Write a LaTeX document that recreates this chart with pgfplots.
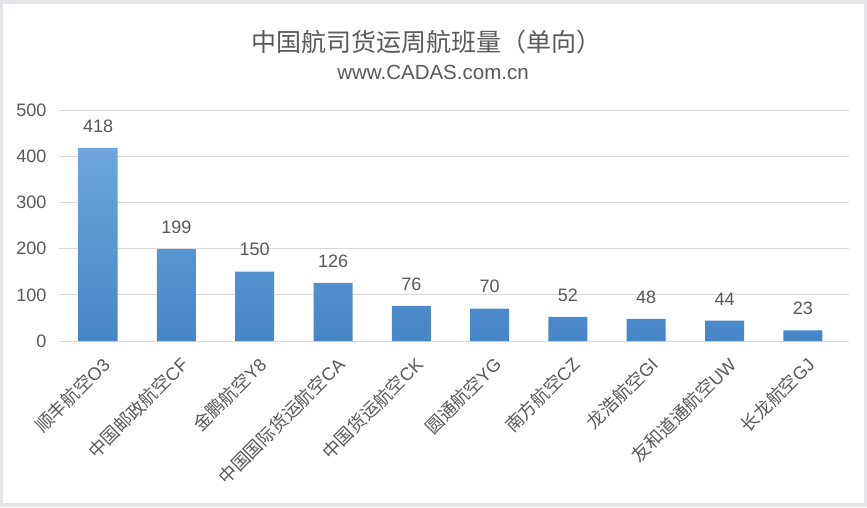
\documentclass[border=0pt]{standalone}
\usepackage{fontspec}
\setmainfont{Liberation Sans}
\newfontfamily\cjk{Noto Sans CJK SC}
\usepackage{pgfplots}
\pgfplotsset{compat=1.18}
\definecolor{txt}{HTML}{595959}
\definecolor{gridc}{HTML}{D9D9D9}
\definecolor{bartop}{HTML}{6EA6DD}
\definecolor{barbot}{HTML}{4685C7}
\definecolor{frame}{HTML}{E3E5E8}
\begin{document}
\begin{tikzpicture}[x=1pt,y=1pt]
\fill[frame] (0,0) rectangle (867,507);
\fill[white] (3,4) rectangle (864,503);
\node[text=txt, font=\cjk\fontsize{25}{30}\selectfont] at (426,465) {中国航司货运周航班量（单向）};
\node[text=txt, font=\fontsize{20.5}{24}\selectfont] at (433,435) {www.CADAS.com.cn};
\begin{axis}[
  at={(59pt,166pt)}, anchor=south west,
  scale only axis, width=790pt, height=231pt,
  xmin=-0.5, xmax=9.59, ymin=0, ymax=500,
  ytick={0,100,...,500},
  ymajorgrids, grid style={draw=gridc, line width=1pt},
  axis line style={draw=none},
  major tick length=0pt,
  xtick=data,
  xticklabels={{\cjk 顺丰航空}O3,{\cjk 中国邮政航空}CF,{\cjk 金鹏航空}Y8,{\cjk 中国国际货运航空}CA,{\cjk 中国货运航空}CK,{\cjk 圆通航空}YG,{\cjk 南方航空}CZ,{\cjk 龙浩航空}GI,{\cjk 友和道通航空}UW,{\cjk 长龙航空}GJ},
  xticklabel style={rotate=45, anchor=east, yshift=-20pt, xshift=-5pt, text=txt, font=\fontsize{18}{21}\selectfont},
  yticklabel style={text=txt, font=\fontsize{18}{21}\selectfont, xshift=-9pt},
  /pgf/number format/assume math mode=true,
  nodes near coords,
  nodes near coords style={text=txt, font=\fontsize{18}{21}\selectfont, yshift=12pt},
  ybar, bar width=39pt,
]
\addplot[ybar, draw=none, top color=bartop, bottom color=barbot] coordinates {(0,418) (1,199) (2,150) (3,126) (4,76) (5,70) (6,52) (7,48) (8,44) (9,23)};
\end{axis}
\end{tikzpicture}
\end{document}
